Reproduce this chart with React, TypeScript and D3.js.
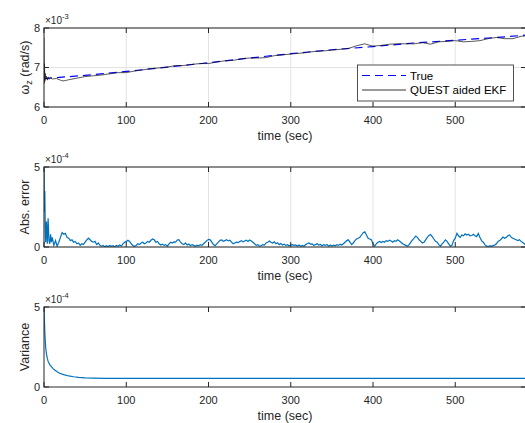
import React from "react";
import * as d3 from "d3";

// ---------- data ----------
const xTicks = [0, 100, 200, 300, 400, 500];
const y1Ticks = [6, 7, 8];
const y2Ticks = [0, 5];
const y3Ticks = [0, 5];

// True angular rate (×1e-3 rad/s)
const trueRate: [number, number][] = [
  [0, 6.72], [50, 6.8], [100, 6.9], [150, 7.01], [200, 7.12], [250, 7.24], [300, 7.35],
  [350, 7.45], [400, 7.53], [450, 7.62], [500, 7.69], [550, 7.76], [586, 7.82],
];

// QUEST aided EKF estimate (×1e-3 rad/s)
const ekfRate: [number, number][] = [
  [0, 7.75], [0.3, 6.6], [0.6, 7.1], [1, 6.65], [1.5, 6.85], [2, 6.7], [3, 6.78], [4, 6.68],
  [5, 6.76], [6, 6.7], [8, 6.74], [10, 6.71], [15, 6.72], [20, 6.68], [23, 6.66], [26, 6.67],
  [30, 6.69], [40, 6.73], [50, 6.77], [60, 6.79], [70, 6.81], [80, 6.84], [90, 6.87], [100, 6.87],
  [110, 6.91], [120, 6.94], [130, 6.97], [140, 6.99], [150, 7.01], [160, 7.05], [170, 7.05],
  [180, 7.08], [190, 7.1], [200, 7.1], [210, 7.14], [220, 7.17], [230, 7.18], [240, 7.22],
  [250, 7.24], [260, 7.24], [270, 7.25], [280, 7.3], [290, 7.32], [300, 7.34], [310, 7.36],
  [320, 7.38], [330, 7.41], [340, 7.42], [350, 7.44], [360, 7.46], [370, 7.48], [380, 7.55],
  [390, 7.6], [400, 7.54], [410, 7.56], [420, 7.59], [430, 7.6], [440, 7.6], [450, 7.6],
  [460, 7.63], [470, 7.59], [480, 7.65], [490, 7.66], [500, 7.68], [510, 7.65], [520, 7.66],
  [530, 7.68], [540, 7.73], [550, 7.76], [560, 7.73], [570, 7.73], [580, 7.79], [586, 7.8],
];

// Absolute error (×1e-4)
const absError: [number, number][] = [
  [0, 5.0], [0.5, 2.2], [1, 3.5], [1.5, 1.2], [2, 0.3], [3, 1.6], [4, 0.2], [5, 1.8], [6, 0.4],
  [7, 0.2], [8, 0.8], [9, 0.3], [10, 0.6], [12, 0.1], [14, 0.4], [16, 0.05], [18, 0.3], [20, 0.6],
  [22, 0.9], [24, 0.8], [26, 0.85], [28, 0.6], [30, 0.55], [32, 0.4], [34, 0.45], [36, 0.3],
  [38, 0.35], [40, 0.2], [42, 0.25], [44, 0.1], [46, 0.2], [48, 0.15], [50, 0.3], [52, 0.45],
  [54, 0.55], [56, 0.45], [58, 0.35], [60, 0.3], [62, 0.35], [64, 0.15], [66, 0.25], [68, 0.1],
  [70, 0.05], [72, 0.1], [74, 0.02], [76, 0.08], [78, 0.03], [80, 0.1], [82, 0.04], [84, 0.08],
  [86, 0.02], [88, 0.1], [90, 0.05], [92, 0.12], [94, 0.06], [96, 0.2], [98, 0.3], [100, 0.35],
  [102, 0.42], [104, 0.35], [106, 0.2], [108, 0.1], [110, 0.04], [112, 0.1], [114, 0.2],
  [116, 0.15], [118, 0.25], [120, 0.3], [122, 0.2], [124, 0.25], [126, 0.35], [128, 0.3],
  [130, 0.42], [132, 0.5], [134, 0.45], [136, 0.3], [138, 0.35], [140, 0.2], [142, 0.12],
  [144, 0.18], [146, 0.1], [148, 0.15], [150, 0.05], [152, 0.2], [154, 0.3], [156, 0.25],
  [158, 0.32], [160, 0.3], [162, 0.44], [164, 0.46], [166, 0.3], [168, 0.2], [170, 0.15],
  [172, 0.25], [174, 0.12], [176, 0.18], [178, 0.08], [180, 0.15], [182, 0.1], [184, 0.05],
  [186, 0.12], [188, 0.08], [190, 0.15], [192, 0.1], [194, 0.2], [196, 0.3], [198, 0.4],
  [200, 0.48], [202, 0.45], [204, 0.3], [206, 0.15], [208, 0.08], [210, 0.2], [212, 0.3],
  [214, 0.42], [216, 0.44], [218, 0.35], [220, 0.4], [222, 0.45], [224, 0.38], [226, 0.42],
  [228, 0.3], [230, 0.2], [232, 0.25], [234, 0.3], [236, 0.28], [238, 0.35], [240, 0.4],
  [242, 0.32], [244, 0.38], [246, 0.42], [248, 0.35], [250, 0.44], [252, 0.38], [254, 0.3],
  [256, 0.2], [258, 0.1], [260, 0.15], [262, 0.05], [264, 0.08], [266, 0.15], [268, 0.12],
  [270, 0.25], [272, 0.3], [274, 0.37], [276, 0.3], [278, 0.25], [280, 0.32], [282, 0.2],
  [284, 0.27], [286, 0.15], [288, 0.22], [290, 0.12], [292, 0.18], [294, 0.1], [296, 0.14],
  [298, 0.08], [300, 0.12], [302, 0.15], [304, 0.1], [306, 0.13], [308, 0.06], [310, 0.12],
  [312, 0.05], [314, 0.1], [316, 0.04], [318, 0.15], [320, 0.2], [322, 0.25], [324, 0.18],
  [326, 0.2], [328, 0.1], [330, 0.15], [332, 0.2], [334, 0.12], [336, 0.16], [338, 0.08],
  [340, 0.14], [342, 0.1], [344, 0.16], [346, 0.05], [348, 0.12], [350, 0.06], [352, 0.12],
  [354, 0.08], [356, 0.14], [358, 0.1], [360, 0.18], [362, 0.12], [364, 0.2], [366, 0.3],
  [368, 0.4], [370, 0.45], [372, 0.3], [374, 0.15], [376, 0.25], [378, 0.4], [380, 0.5],
  [382, 0.55], [384, 0.6], [386, 0.75], [388, 0.9], [390, 0.95], [392, 0.75], [394, 0.55],
  [396, 0.5], [398, 0.45], [400, 0.2], [402, 0.06], [404, 0.2], [406, 0.3], [408, 0.35],
  [410, 0.28], [412, 0.35], [414, 0.3], [416, 0.4], [418, 0.35], [420, 0.42], [422, 0.38],
  [424, 0.3], [426, 0.4], [428, 0.35], [430, 0.45], [432, 0.38], [434, 0.3], [436, 0.2],
  [438, 0.15], [440, 0.1], [442, 0.05], [444, 0.15], [446, 0.3], [448, 0.45], [450, 0.55],
  [452, 0.68], [454, 0.6], [456, 0.45], [458, 0.35], [460, 0.25], [462, 0.3], [464, 0.45],
  [466, 0.6], [468, 0.72], [470, 0.78], [472, 0.65], [474, 0.5], [476, 0.35], [478, 0.3],
  [480, 0.15], [482, 0.05], [484, 0.2], [486, 0.3], [488, 0.44], [490, 0.35], [492, 0.2],
  [494, 0.05], [496, 0.1], [498, 0.4], [500, 0.55], [502, 0.85], [504, 0.7], [506, 0.6],
  [508, 0.75], [510, 0.7], [512, 0.82], [514, 0.75], [516, 0.8], [518, 0.7], [520, 0.72],
  [522, 0.8], [524, 0.7], [526, 0.65], [528, 0.85], [530, 0.6], [532, 0.4], [534, 0.3],
  [536, 0.15], [538, 0.05], [540, 0.02], [542, 0.08], [544, 0.04], [546, 0.1], [548, 0.12],
  [550, 0.2], [552, 0.35], [554, 0.4], [556, 0.5], [558, 0.62], [560, 0.55], [562, 0.6],
  [564, 0.7], [566, 0.75], [568, 0.6], [570, 0.55], [572, 0.5], [574, 0.45], [576, 0.4],
  [578, 0.45], [580, 0.35], [582, 0.28], [584, 0.2], [586, 0.1],
];

// Variance (×1e-4)
const variance: [number, number][] = [
  [0, 5.0], [0.5, 4.2], [1, 3.4], [2, 2.5], [3, 2.05], [4, 1.8], [5, 1.6], [7, 1.4], [9, 1.27],
  [11, 1.15], [13, 1.06], [16, 0.95], [19, 0.86], [24, 0.77], [30, 0.69], [36, 0.64], [42, 0.6],
  [50, 0.57], [60, 0.555], [75, 0.545], [90, 0.54], [120, 0.535], [200, 0.535], [300, 0.535],
  [400, 0.535], [500, 0.535], [586, 0.535],
];

// ---------- layout ----------
const W = 525;
const H = 423;
const LEFT = 44;
const RIGHT = 526;
const AXIS = "#262626";
const GRID = "#e3e3e3";
const FONT = "'Liberation Sans', Arial, Helvetica, sans-serif";
const BLUE = "#0072BD";

const x = d3.scaleLinear().domain([0, 586]).range([LEFT, RIGHT]);

type PanelProps = {
  id: string;
  top: number;
  bottom: number;
  domain: [number, number];
  yTicks: number[];
  grid: boolean;
  exponent: string;
  ylabel: React.ReactNode;
  children: (y: d3.ScaleLinear<number, number>) => React.ReactNode;
};

function Panel({ id, top, bottom, domain, yTicks, grid, exponent, ylabel, children }: PanelProps) {
  const y = d3.scaleLinear().domain(domain).range([bottom, top]);
  const tickLen = 5;
  return (
    <g>
      <defs>
        <clipPath id={id}>
          <rect x={LEFT} y={top} width={RIGHT - LEFT} height={bottom - top} />
        </clipPath>
      </defs>
      <rect x={LEFT} y={top} width={RIGHT - LEFT} height={bottom - top} fill="#fff" />
      {grid &&
        xTicks.map((t) => (
          <line key={"gx" + t} x1={x(t)} x2={x(t)} y1={top} y2={bottom} stroke={GRID} strokeWidth={1} />
        ))}
      {grid &&
        yTicks.map((t) => (
          <line key={"gy" + t} x1={LEFT} x2={RIGHT} y1={y(t)} y2={y(t)} stroke={GRID} strokeWidth={1} />
        ))}
      <g clipPath={`url(#${id})`}>{children(y)}</g>
      <rect x={LEFT} y={top} width={RIGHT - LEFT} height={bottom - top} fill="none" stroke={AXIS} strokeWidth={1} />
      {xTicks.map((t) => (
        <g key={"xt" + t}>
          <line x1={x(t)} x2={x(t)} y1={bottom} y2={bottom - tickLen} stroke={AXIS} strokeWidth={1} />
          <line x1={x(t)} x2={x(t)} y1={top} y2={top + tickLen} stroke={AXIS} strokeWidth={1} />
          <text x={x(t)} y={bottom + 16.5} textAnchor="middle" fontSize={11} fill={AXIS} fontFamily={FONT}>
            {t}
          </text>
        </g>
      ))}
      {yTicks.map((t) => (
        <g key={"yt" + t}>
          <line x1={LEFT} x2={LEFT + tickLen} y1={y(t)} y2={y(t)} stroke={AXIS} strokeWidth={1} />
          <line x1={RIGHT} x2={RIGHT - tickLen} y1={y(t)} y2={y(t)} stroke={AXIS} strokeWidth={1} />
          <text x={40} y={y(t)} dy="0.36em" textAnchor="end" fontSize={11} fill={AXIS} fontFamily={FONT}>
            {t}
          </text>
        </g>
      ))}
      <text x={LEFT + 1} y={top - 4.5} fontSize={10} fill={AXIS} fontFamily={FONT}>
        ×10
        <tspan fontSize={7.5} dy={-4.5}>
          {exponent}
        </tspan>
      </text>
      <text x={(LEFT + RIGHT) / 2} y={bottom + 33} textAnchor="middle" fontSize={12.5} fill={AXIS} fontFamily={FONT}>
        time (sec)
      </text>
      <text
        transform={`translate(28.5,${(top + bottom) / 2}) rotate(-90)`}
        textAnchor="middle"
        fontSize={12.5}
        fill={AXIS}
        fontFamily={FONT}
      >
        {ylabel}
      </text>
    </g>
  );
}

export default function App() {
  const lineGen = (y: d3.ScaleLinear<number, number>) =>
    d3
      .line<[number, number]>()
      .x((d) => x(d[0]))
      .y((d) => y(d[1]));

  return (
    <svg
      width={W}
      height={H}
      viewBox={`0 0 ${W} ${H}`}
      style={{ position: "absolute", left: 0, top: 0, background: "#fff" }}
    >
      <rect width={W} height={H} fill="#fff" />
      <Panel
        id="c1"
        top={28}
        bottom={107}
        domain={[6, 8]}
        yTicks={y1Ticks}
        grid={true}
        exponent="-3"
        ylabel={
          <>
            ω
            <tspan fontSize={9} dy={3}>
              z
            </tspan>
            <tspan dy={-3}> (rad/s)</tspan>
          </>
        }
      >
        {(y) => (
          <>
            <path d={lineGen(y)(trueRate) || ""} fill="none" stroke="#0000ff" strokeWidth={1.2} strokeDasharray="8,5" />
            <path d={lineGen(y)(ekfRate) || ""} fill="none" stroke="#111" strokeWidth={0.7} />
          </>
        )}
      </Panel>
      <g fontFamily={FONT} fontSize={11.5} fill="#000">
        <rect x={357.5} y={65} width={156} height={36} fill="#fff" stroke={AXIS} strokeWidth={0.8} />
        <line x1={362} x2={406} y1={75.5} y2={75.5} stroke="#0000ff" strokeWidth={1} strokeDasharray="8,5" />
        <text x={410} y={79.5}>True</text>
        <line x1={362} x2={406} y1={90} y2={90} stroke="#000" strokeWidth={0.8} />
        <text x={410} y={94}>QUEST aided EKF</text>
      </g>
      <Panel
        id="c2"
        top={167}
        bottom={247}
        domain={[0, 5]}
        yTicks={y2Ticks}
        grid={true}
        exponent="-4"
        ylabel="Abs. error"
      >
        {(y) => <path d={lineGen(y)(absError) || ""} fill="none" stroke={BLUE} strokeWidth={1.2} />}
      </Panel>
      <Panel
        id="c3"
        top={307}
        bottom={387}
        domain={[0, 5]}
        yTicks={y3Ticks}
        grid={false}
        exponent="-4"
        ylabel="Variance"
      >
        {(y) => <path d={lineGen(y)(variance) || ""} fill="none" stroke={BLUE} strokeWidth={1.2} />}
      </Panel>
    </svg>
  );
}
